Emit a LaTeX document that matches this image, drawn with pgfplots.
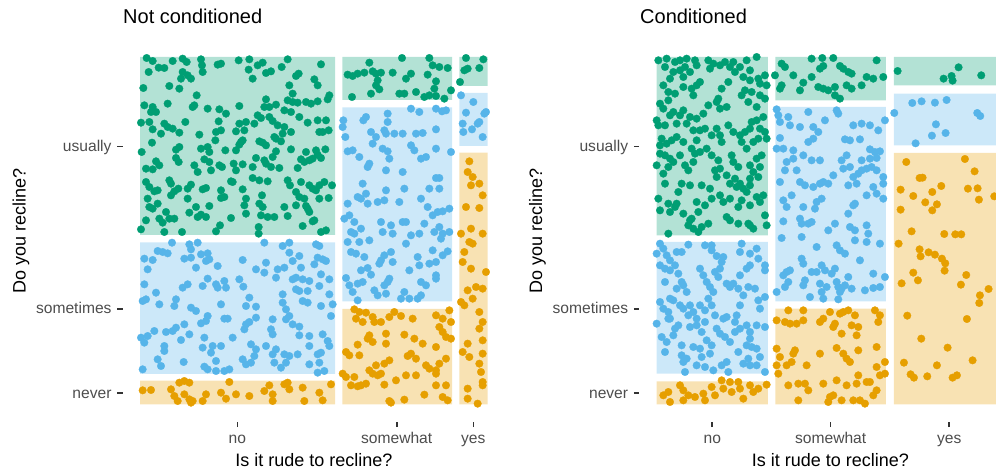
\documentclass[border=0pt]{standalone}
\usepackage{fontspec}
\setmainfont{Liberation Sans}
\usepackage{pgfplots}
\pgfplotsset{compat=1.18}
\definecolor{cg}{HTML}{009E73}
\definecolor{cb}{HTML}{56B4E9}
\definecolor{co}{HTML}{E69F00}
\definecolor{fg}{RGB}{179,226,213}
\definecolor{fb}{RGB}{204,232,249}
\definecolor{fo}{RGB}{248,226,179}
\definecolor{tickgray}{HTML}{333333}
\definecolor{labgray}{HTML}{4D4D4D}
% points: colour, x offset, y offset, table of (px/3) readings
\newcommand\pts[4]{\addplot[only marks, mark=*, mark size=3.8pt, color=#1, line width=0.3pt]
  table[row sep=\\, x expr=\thisrowno{0}/3+#2, y expr=#3-\thisrowno{1}/3] {#4};}
\newcommand\cell[5]{\addplot[fill=#1, draw=none] coordinates {(#2,#4) (#3,#4) (#3,#5) (#2,#5) (#2,#4)};}
\pgfplotsset{
  mosaic/.style={
    scale only axis, width=382.3pt, height=381.7pt,
    ymin=48.3, ymax=430, anchor=south west,
    axis line style={draw=none},
    tick align=outside, major tick length=5.5pt,
    tick style={color=tickgray, line width=1.6pt},
    xtick pos=left, ytick pos=left,
    ytick={76.7,161,323.3}, yticklabels={never,sometimes,usually},
    xticklabels={no,somewhat,yes},
    ticklabel style={font=\fontsize{15.6}{18}\selectfont, text=labgray, inner sep=0pt},
    xticklabel style={anchor=base, yshift=-16.8pt},
    yticklabel style={anchor=base east, xshift=-5.5pt, yshift=-5pt},
    every axis x label/.style={at={(axis description cs:0.5,-0.1161)}, anchor=base, inner sep=0pt},
    every axis y label/.style={at={(axis description cs:-0.254,0.5)}, rotate=90, anchor=base, inner sep=0pt},
    label style={font=\fontsize{18}{21}\selectfont},
    every axis title/.style={anchor=base west, inner sep=0pt, font=\fontsize{20}{24}\selectfont},
    xlabel={Is it rude to recline?}, ylabel={Do you recline?},
  }
}
\begin{document}
\begin{tikzpicture}
\path[use as bounding box] (0pt,0pt) rectangle (996pt,470pt);
\clip (0pt,0pt) rectangle (996pt,470pt);
% ---------------- Not conditioned ----------------
\begin{axis}[mosaic, at={(122.7pt,48.3pt)}, xmin=122.7, xmax=505,
  xtick={237.3,396.7,473.3}, title={Not conditioned},
  title style={at={(axis description cs:0.0008,1.0419)}}]
\cell{fg}{140}{335}{235}{413}
\cell{fb}{140}{335}{96}{227.7}
\cell{fo}{140}{335}{65.5}{89.3}
\cell{fg}{342.3}{452}{370}{413}
\cell{fb}{342.3}{452}{168.7}{362.7}
\cell{fo}{342.3}{452}{65.5}{161}
\cell{fg}{459.3}{487.7}{384}{413}
\cell{fb}{459.3}{487.7}{324}{377}
\cell{fo}{459.3}{487.7}{65.5}{317.3}
\pts{cg}{136}{418}{32 18\\50 27\\38 60\\68 47\\85 48\\110 27\\140 20\\152 30\\195 22\\198 40\\245 38\\255 35\\308 25\\340 22\\338 53\\350 80\\365 40\\380 32\\390 63\\405 58\\455 22\\437 45\\555 37\\488 65\\480 72\\535 82\\545 100\\460 100\\470 125\\
140 60\\155 70\\165 80\\135 80\\200 60\\130 110\\100 102\\22 108\\
182 130\\175 160\\170 165\\95 155\\25 160\\50 165\\45 180\\60 180\\215 170\\250 172\\270 185\\310 162\\390 142\\385 165\\400 165\\420 158\\455 145\\470 150\\485 152\\445 175\\465 180\\510 150\\525 155\\545 148\\580 130\\575 142\\
15 212\\40 210\\50 232\\75 245\\85 215\\95 225\\110 230\\130 242\\148 210\\190 248\\240 240\\255 235\\248 208\\300 238\\310 215\\325 235\\330 210\\355 215\\365 190\\375 198\\400 195\\410 207\\425 220\\445 225\\465 240\\490 195\\515 212\\545 205\\570 205\\550 240\\560 240\\578 235\\
48 272\\17 300\\120 293\\130 285\\195 290\\215 285\\220 300\\238 265\\268 295\\300 295\\315 270\\320 265\\310 278\\370 268\\380 272\\390 280\\415 255\\420 260\\435 268\\440 245\\465 292\\510 300\\540 295\\568 292\\
60 328\\70 340\\50 352\\30 350\\120 318\\128 330\\175 340\\185 360\\205 322\\220 330\\225 355\\250 340\\258 345\\293 335\\300 355\\320 337\\350 345\\360 318\\385 325\\390 335\\405 345\\420 298\\410 315\\430 348\\485 348\\495 322\\505 330\\520 325\\530 320\\545 308\\555 318\\
30 390\\40 405\\55 418\\65 415\\100 385\\105 395\\115 418\\105 430\\127 410\\155 410\\165 398\\200 412\\210 408\\255 415\\265 435\\290 390\\285 388\\350 378\\370 385\\395 388\\330 440\\320 412\\378 430\\455 385\\462 400\\495 390\\520 400\\530 410\\540 415\\550 400\\565 390\\588 400\\578 438\\550 440\\480 420\\490 435\\505 440\\
35 440\\40 465\\50 470\\65 455\\90 480\\155 440\\180 465\\160 482\\185 495\\195 488\\210 495\\220 462\\255 438\\325 460\\330 485\\370 455\\380 465\\375 490\\395 495\\415 495\\445 465\\455 492\\480 460\\510 462\\515 470\\520 480\\535 505\\
30 505\\70 500\\80 512\\100 500\\115 500\\15 532\\85 540\\138 540\\240 538\\252 520\\285 498\\368 525\\368 545\\500 522\\530 508\\555 540\\570 535\\}
\pts{cb}{136}{234}{108 20\\160 25\\185 20\\165 40\\65 45\\80 48\\95 52\\25 68\\50 72\\35 100\\145 68\\165 65\\195 55\\215 52\\220 70\\210 75\\180 95\\245 90\\320 72\\385 20\\440 30\\460 20\\460 50\\390 80\\385 110\\360 100\\425 100\\420 125\\445 95\\470 75\\490 60\\495 95\\540 25\\550 30\\545 65\\560 70\\570 75\\535 85\\555 115\\480 125\\470 130\\500 130\\520 135\\550 150\\580 130\\
25 145\\60 170\\20 195\\30 190\\70 205\\120 190\\115 210\\140 155\\155 145\\200 150\\215 128\\240 145\\245 155\\265 135\\270 155\\310 130\\322 152\\340 185\\330 210\\360 212\\255 205\\165 215\\180 225\\440 175\\440 200\\450 220\\480 160\\490 165\\515 165\\500 195\\515 200\\555 210\\590 205\\580 175\\585 240\\
55 285\\15 305\\25 320\\35 300\\90 288\\110 285\\120 275\\145 265\\160 295\\135 312\\85 330\\85 345\\195 262\\215 240\\210 255\\205 305\\265 248\\275 248\\290 305\\330 265\\340 258\\325 280\\360 245\\405 280\\410 295\\450 250\\460 240\\470 265\\490 272\\490 298\\520 300\\560 295\\575 315\\580 330\\410 250\\
65 370\\75 390\\20 400\\143 378\\200 335\\230 330\\255 330\\225 350\\240 375\\205 392\\215 400\\240 405\\265 405\\280 400\\320 370\\345 325\\360 340\\355 360\\345 380\\330 385\\390 330\\410 355\\420 340\\445 355\\460 360\\485 355\\415 380\\435 395\\450 380\\520 330\\545 355\\555 350\\550 380\\520 385\\545 410\\565 405\\}
\pts{co}{136}{234}{20 463\\45 462\\105 460\\115 480\\130 440\\145 435\\160 440\\125 495\\145 475\\160 490\\165 500\\170 495\\200 495\\210 475\\255 470\\270 488\\280 438\\300 475\\340 480\\385 465\\400 448\\410 475\\410 495\\445 445\\455 440\\460 460\\500 455\\505 495\\550 470\\560 493\\585 445\\}
\pts{cg}{336}{418}{100 32\\198 18\\280 18\\290 40\\310 45\\335 48\\35 68\\50 72\\65 65\\85 62\\110 58\\120 65\\135 62\\125 85\\120 100\\130 112\\105 125\\48 135\\170 62\\210 80\\225 65\\275 68\\300 88\\295 110\\190 125\\205 125\\240 120\\265 135\\280 130\\300 132\\325 140\\345 115\\
390 18\\442 22\\385 55\\395 50\\430 48\\372 90\\}
\pts{cb}{336}{418}{22 205\\20 225\\82 205\\90 195\\155 185\\155 210\\225 170\\250 180\\300 170\\318 178\\330 175\\105 240\\120 255\\145 235\\150 245\\175 245\\200 245\\240 245\\260 243\\300 232\\28 255\\35 298\\50 295\\70 315\\110 275\\140 290\\155 298\\160 320\\225 280\\235 295\\255 320\\270 315\\300 290\\345 300\\100 335\\95 345\\150 355\\200 360\\300 378\\310 378\\80 395\\65 435\\75 440\\90 425\\95 455\\125 450\\145 445\\150 415\\190 450\\205 410\\255 440\\280 410\\310 410\\275 465\\290 490\\305 480\\320 478\\340 470\\35 455\\25 500\\40 490\\55 510\\45 540\\55 545\\75 530\\100 565\\70 570\\35 570\\135 510\\140 540\\165 520\\170 545\\200 510\\210 510\\210 575\\225 550\\250 545\\265 515\\295 540\\310 525\\320 545\\340 540\\315 560\\45 600\\60 605\\85 615\\75 655\\95 648\\130 635\\135 625\\145 610\\165 600\\170 630\\220 655\\245 615\\250 640\\290 595\\280 635\\300 630\\320 610\\335 598\\30 678\\40 700\\50 720\\65 695\\80 690\\105 668\\115 715\\125 730\\145 700\\150 725\\155 690\\160 680\\195 740\\205 720\\220 740\\245 740\\255 730\\255 690\\270 700\\300 670\\300 680\\65 745\\
375 130\\412 150\\390 182\\445 185\\380 215\\382 240\\408 232\\425 215\\430 210\\440 255\\450 180\\}
\pts{co}{336}{418}{55 772\\70 780\\90 782\\60 800\\80 810\\110 795\\115 810\\135 810\\160 795\\175 780\\195 792\\230 800\\300 790\\320 800\\340 775\\345 810\\310 825\\320 840\\330 855\\345 860\\100 850\\95 860\\110 870\\150 845\\205 848\\235 860\\260 875\\300 885\\65 878\\150 875\\30 900\\40 910\\70 910\\120 940\\145 935\\160 925\\215 912\\225 905\\240 920\\270 940\\280 950\\300 955\\300 965\\310 935\\330 920\\20 965\\30 975\\55 975\\45 1000\\65 1003\\75 1000\\90 995\\100 955\\110 965\\125 970\\135 965\\145 998\\180 985\\210 970\\240 970\\265 1028\\300 1000\\330 1000\\320 1035\\335 1045\\160 1047\\165 1052\\205 1043\\
400 328\\395 360\\410 375\\405 400\\430 395\\440 430\\390 465\\430 468\\375 545\\405 530\\440 545\\400 570\\410 575\\385 600\\380 630\\405 650\\450 660\\420 705\\395 715\\440 710\\375 750\\385 760\\410 740\\430 780\\440 810\\430 830\\395 875\\440 865\\380 900\\400 915\\440 905\\430 935\\435 960\\440 990\\395 1010\\395 1040\\425 1055\\440 1000\\}
\end{axis}
% ---------------- Conditioned ----------------
\begin{axis}[mosaic, at={(639.3pt,48.3pt)}, xmin=639.3, xmax=1021.7,
  xtick={712.3,830.7,949.3}, title={Conditioned},
  title style={at={(axis description cs:0.0018,1.0419)}}]
\cell{fg}{656.7}{768}{234.7}{413}
\cell{fb}{656.7}{768}{96.3}{228}
\cell{fo}{656.7}{768}{65.5}{88.7}
\cell{fg}{775.3}{886}{369.7}{413}
\cell{fb}{775.3}{886}{168.7}{363}
\cell{fo}{775.3}{886}{65.5}{161.3}
\cell{fg}{894}{1004.7}{384.7}{413}
\cell{fb}{894}{1004.7}{324.7}{376.3}
\cell{fo}{894}{1004.7}{65.5}{317}
\pts{cg}{650}{418}{25 25\\50 20\\45 45\\75 30\\90 25\\110 20\\135 25\\105 45\\90 55\\70 60\\100 75\\120 60\\140 40\\175 25\\190 35\\180 50\\210 40\\225 30\\240 45\\250 30\\255 60\\270 45\\290 25\\320 15\\300 55\\280 75\\300 85\\325 80\\345 70\\350 100\\330 95\\235 90\\215 110\\205 140\\200 150\\210 170\\230 165\\175 160\\160 185\\130 130\\140 100\\150 90\\125 110\\100 105\\60 80\\40 100\\55 120\\75 125\\30 155\\40 170\\60 190\\70 180\\55 145\\20 205\\25 220\\45 220\\80 215\\90 190\\100 175\\120 195\\110 215\\140 200\\275 130\\285 115\\305 120\\295 150\\330 130\\345 140\\320 165\\340 195\\320 205\\305 210\\300 230\\285 240\\235 220\\250 240\\270 250\\275 270\\290 290\\330 230\\345 240\\350 260\\325 260\\310 270\\130 235\\150 235\\165 230\\185 250\\200 230\\210 250\\215 270\\35 260\\30 280\\50 275\\65 265\\80 255\\100 270\\140 265\\125 290\\150 300\\170 290\\185 310\\205 325\\30 305\\20 340\\45 310\\60 320\\55 345\\40 365\\45 395\\70 330\\90 310\\105 340\\115 355\\130 330\\135 305\\195 355\\210 350\\200 375\\230 370\\240 395\\255 380\\260 405\\270 395\\280 410\\300 400\\245 310\\250 330\\265 345\\300 340\\320 320\\335 310\\330 345\\310 360\\300 380\\325 375\\290 420\\320 435\\340 430\\330 450\\300 460\\275 445\\265 465\\240 440\\220 450\\210 430\\185 440\\180 410\\155 400\\120 400\\95 395\\25 440\\30 475\\55 455\\75 465\\60 480\\85 420\\80 455\\100 485\\140 450\\145 480\\165 460\\125 500\\115 520\\130 530\\145 540\\155 525\\175 515\\230 495\\240 505\\265 515\\295 515\\300 520\\310 530\\345 490\\350 520\\55 545\\120 505\\}
\pts{cb}{650}{418}{30 575\\40 590\\20 605\\50 610\\60 625\\80 600\\95 600\\115 578\\165 580\\185 580\\185 595\\200 612\\220 615\\215 630\\210 650\\195 660\\205 675\\275 575\\270 600\\300 605\\320 590\\325 620\\345 640\\345 655\\300 640\\290 650\\270 670\\250 695\\240 705\\230 695\\30 640\\45 650\\60 655\\75 640\\45 690\\85 665\\150 650\\160 670\\170 690\\180 705\\190 720\\175 740\\185 760\\80 710\\95 690\\100 700\\110 720\\60 740\\70 745\\30 750\\40 770\\55 780\\60 800\\90 760\\100 770\\120 760\\130 780\\115 790\\150 760\\165 775\\140 800\\140 820\\165 810\\195 790\\220 800\\265 710\\280 730\\295 705\\315 710\\325 745\\330 770\\345 735\\270 760\\260 790\\255 810\\230 795\\200 830\\210 845\\155 840\\120 825\\85 820\\75 830\\55 800\\20 815\\35 855\\50 870\\45 900\\70 850\\95 880\\95 910\\100 930\\110 920\\130 885\\150 890\\170 865\\185 880\\180 905\\155 915\\140 940\\165 945\\190 955\\105 960\\215 940\\230 930\\235 960\\225 855\\240 870\\255 840\\270 830\\290 820\\300 840\\320 820\\345 825\\300 860\\290 880\\305 885\\320 890\\330 915\\295 920\\280 935\\300 940\\320 940\\345 960\\265 900\\}
\pts{co}{650}{418}{40 1030\\55 1020\\60 1050\\90 1000\\100 1015\\100 1045\\115 1030\\135 1035\\160 1025\\165 1045\\185 1005\\195 1030\\215 985\\220 1010\\240 990\\245 1020\\265 990\\270 1010\\280 1040\\300 1000\\310 1020\\325 1010\\350 998\\}
\pts{cg}{770}{418}{35 35\\45 45\\15 70\\70 70\\125 20\\157 18\\190 18\\160 42\\150 50\\210 42\\220 50\\235 60\\245 65\\100 92\\125 75\\35 100\\30 110\\90 115\\145 105\\160 110\\175 115\\195 105\\195 130\\210 140\\230 100\\245 110\\275 100\\290 75\\310 80\\320 25\\340 75\\}
\pts{cb}{770}{418}{20 172\\25 190\\30 210\\55 195\\60 220\\90 225\\115 180\\165 205\\200 175\\205 185\\130 225\\145 240\\250 220\\275 215\\300 220\\325 235\\345 205\\30 258\\20 290\\40 290\\70 295\\115 270\\130 260\\225 262\\240 265\\270 262\\300 292\\315 300\\330 298\\320 318\\300 320\\275 325\\70 320\\50 330\\45 355\\80 355\\100 310\\125 325\\150 325\\215 325\\230 310\\220 350\\240 345\\250 375\\265 365\\275 355\\290 350\\305 345\\320 355\\340 375\\190 370\\340 395\\30 390\\90 390\\105 400\\130 405\\150 395\\160 390\\175 395\\235 400\\260 395\\310 405\\320 425\\290 430\\340 440\\255 455\\250 460\\40 445\\50 465\\65 430\\100 465\\140 450\\155 440\\135 470\\40 508\\90 500\\95 515\\115 515\\125 510\\195 515\\175 535\\235 485\\240 525\\255 535\\255 565\\290 520\\295 545\\330 575\\290 570\\35 558\\95 555\\140 585\\200 580\\210 595\\225 605\\270 625\\95 620\\100 635\\125 660\\155 640\\165 655\\185 665\\195 650\\140 660\\50 660\\60 655\\40 670\\55 690\\20 720\\45 705\\105 685\\100 700\\120 735\\150 695\\155 720\\160 740\\170 705\\200 690\\205 705\\210 720\\215 710\\225 700\\205 742\\245 710\\285 715\\310 708\\330 705\\345 675\\310 665\\235 675\\}
\pts{co}{770}{418}{20 805\\45 810\\60 815\\80 815\\100 805\\55 775\\100 775\\150 810\\160 800\\180 780\\210 785\\220 780\\235 775\\255 790\\195 815\\245 820\\265 825\\190 825\\215 845\\260 850\\315 775\\330 790\\325 810\\20 890\\30 915\\20 940\\25 965\\50 940\\65 930\\70 905\\75 895\\110 940\\150 905\\200 888\\220 905\\230 920\\240 930\\265 895\\320 885\\345 930\\320 945\\330 970\\345 965\\55 1000\\85 995\\105 995\\115 1015\\160 995\\200 985\\230 1000\\260 995\\265 970\\290 990\\300 990\\320 1015\\310 1030\\270 1045\\250 1045\\215 1045\\190 1030\\180 1035\\85 1045\\175 1050\\285 1055\\}
\pts{cg}{886}{418}{35 57\\218 46\\173 80\\197 72\\200 86\\286 70\\}
\pts{cb}{886}{418}{25 183\\79 153\\107 148\\147 152\\182 144\\150 217\\179 243\\138 251\\89 274\\274 183\\283 192\\}
\pts{co}{886}{418}{61 330\\237 321\\266 358\\101 378\\110 377\\44 413\\166 402\\139 420\\246 410\\275 409\\82 432\\279 443\\325 433\\118 451\\153 457\\139 475\\44 473\\77 538\\175 546\\208 547\\226 547\\38 575\\101 592\\104 613\\128 601\\147 608\\168 620\\178 634\\176 656\\82 662\\96 685\\47 694\\241 669\\225 698\\308 711\\282 730\\280 753\\64 791\\243 801\\106 860\\185 887\\54 932\\260 925\\153 940\\74 967\\84 977\\124 973\\200 977\\213 970\\}
\end{axis}
\end{tikzpicture}
\end{document}
